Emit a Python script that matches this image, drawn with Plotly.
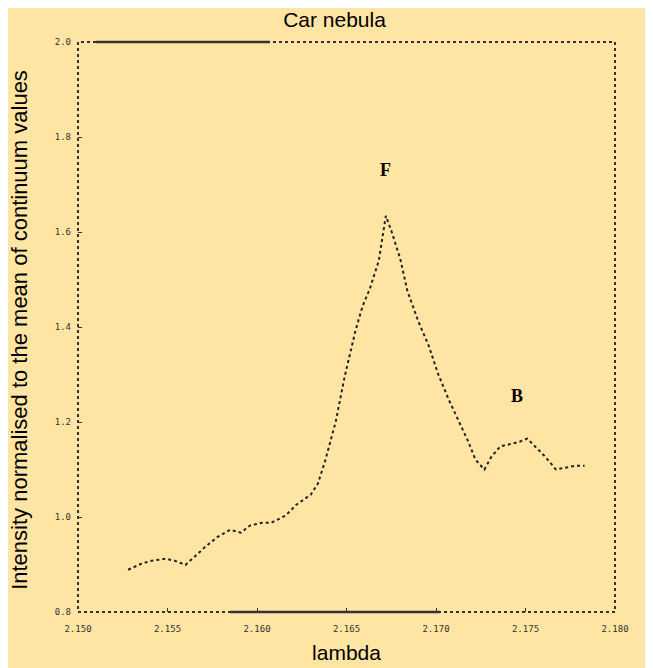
import plotly.graph_objects as go

wavelength = [2.1528, 2.1535, 2.1541, 2.1549, 2.1554, 2.1560, 2.1565, 2.1571, 2.1578, 2.1585,
              2.1591, 2.1596, 2.1603, 2.1608, 2.1616, 2.1622, 2.1630, 2.1634, 2.1638, 2.1644,
              2.1649, 2.1655, 2.1659, 2.1663, 2.1668, 2.1672, 2.1675, 2.1680, 2.1684, 2.1690,
              2.1696, 2.1701, 2.1707, 2.1712, 2.1718, 2.1722, 2.1727, 2.1731, 2.1736, 2.1741,
              2.1747, 2.1751, 2.1755, 2.1761, 2.1767, 2.1772, 2.1778, 2.1783]
intensity = [0.889, 0.901, 0.908, 0.912, 0.908, 0.899, 0.916, 0.937, 0.958, 0.973,
             0.967, 0.982, 0.988, 0.988, 1.003, 1.026, 1.047, 1.070, 1.117, 1.201,
             1.296, 1.392, 1.444, 1.480, 1.539, 1.634, 1.603, 1.544, 1.476, 1.413,
             1.360, 1.303, 1.248, 1.206, 1.159, 1.121, 1.100, 1.127, 1.149, 1.153,
             1.159, 1.165, 1.149, 1.127, 1.100, 1.104, 1.108, 1.108]

x_ticks = [2.150, 2.155, 2.160, 2.165, 2.170, 2.175, 2.180]
x_tick_labels = ["2.150", "2.155", "2.160", "2.165", "2.170", "2.175", "2.180"]
y_ticks = [0.8, 1.0, 1.2, 1.4, 1.6, 1.8, 2.0]
y_tick_labels = ["0.8", "1.0", "1.2", "1.4", "1.6", "1.8", "2.0"]

labels_text = ["F", "B"]
labels_x = [2.1672, 2.1745]
labels_y = [1.730, 1.254]

y_title = "Intensity normalised to the mean of continuum values"
bg = "#FFE5A4"

fig = go.Figure()
fig.add_trace(go.Scatter(x=wavelength, y=intensity, mode="lines",
                         line=dict(color="#222222", width=2, dash="dot"),
                         showlegend=False, hoverinfo="skip"))

for t, lx, ly in zip(labels_text, labels_x, labels_y):
    fig.add_annotation(x=lx, y=ly, text="<b>%s</b>" % t, showarrow=False,
                       font=dict(family="Liberation Serif", size=18, color="black"))

# y-axis title placed as rotated annotation
fig.add_annotation(xref="paper", yref="paper", x=-0.108, y=0.495, text=y_title,
                   textangle=-90, showarrow=False, xanchor="center", yanchor="middle",
                   font=dict(family="Liberation Sans", size=22, color="black"))

# dotted frame
fig.add_shape(type="rect", xref="paper", yref="paper", x0=0, y0=0, x1=1, y1=1,
              line=dict(color="#333333", width=2, dash="dot"))
# solid segments on top and bottom frame
fig.add_shape(type="line", xref="x", yref="paper", x0=2.1510, x1=2.1607, y0=1, y1=1,
              line=dict(color="#333333", width=2.5))
fig.add_shape(type="line", xref="x", yref="paper", x0=2.1585, x1=2.1702, y0=0, y1=0,
              line=dict(color="#333333", width=2.5))

fig.update_layout(
    width=653, height=668,
    paper_bgcolor=bg, plot_bgcolor=bg,
    margin=dict(l=70, r=46, t=34, b=64),
    title=dict(text="Car nebula", x=0.5, xanchor="center", y=0.982, yanchor="middle",
               font=dict(family="Liberation Sans", size=21, color="black")),
    font=dict(family="Liberation Sans", color="black"),
)
fig.update_xaxes(range=[2.150, 2.180], tickvals=x_ticks, ticktext=x_tick_labels,
                 showgrid=False, zeroline=False, showline=False, automargin=False,
                 ticks="inside", ticklen=4, tickcolor="#333333", ticklabelstandoff=10,
                 tickfont=dict(size=9, family="DejaVu Sans Mono", color="#333333"),
                 title=dict(text="lambda", font=dict(size=21), standoff=12))
fig.update_yaxes(range=[0.8, 2.0], tickvals=y_ticks, ticktext=y_tick_labels,
                 showgrid=False, zeroline=False, showline=False, automargin=False,
                 ticks="inside", ticklen=4, tickcolor="#333333", ticklabelstandoff=6,
                 tickfont=dict(size=9, family="DejaVu Sans Mono", color="#333333"))

fig.write_html("out.html")
